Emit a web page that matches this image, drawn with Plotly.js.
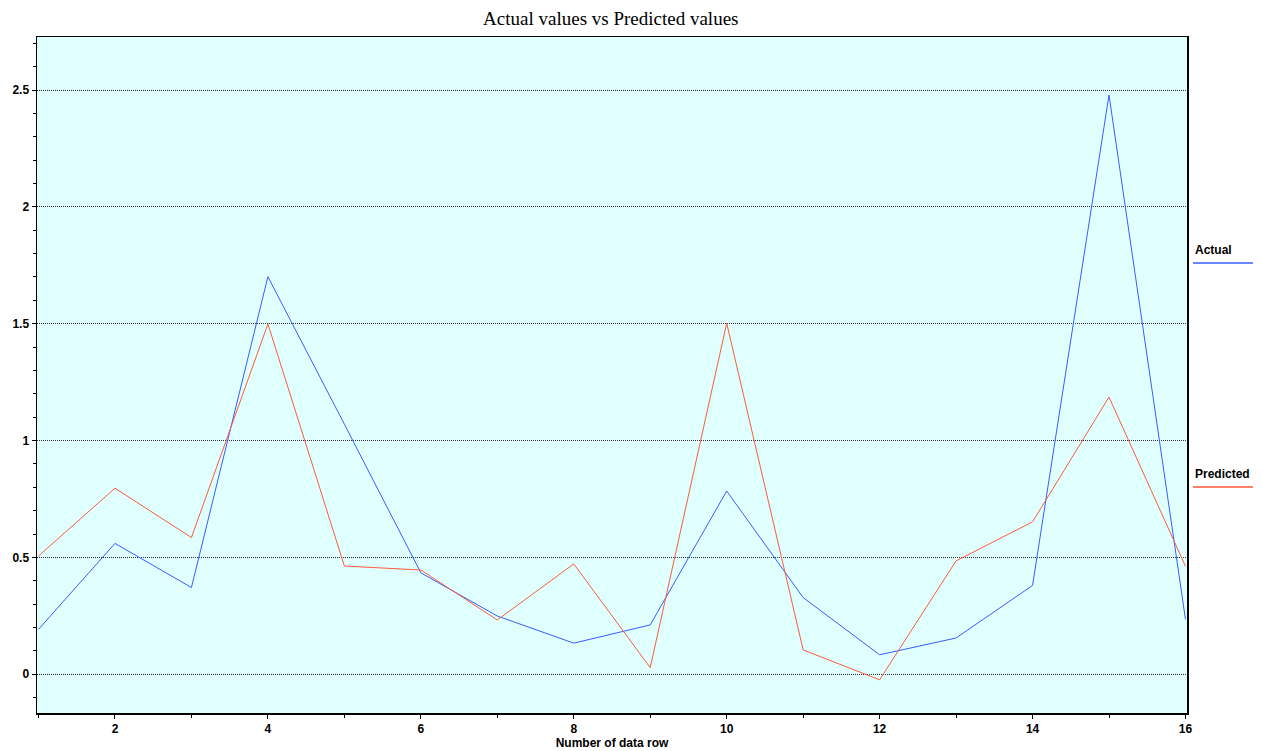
<!DOCTYPE html>
<html>
<head>
<meta charset="utf-8">
<script src="https://cdn.plot.ly/plotly-3.0.1.min.js"></script>
<style>html,body{margin:0;padding:0;background:#fff;}#chart{width:1262px;height:751px;}</style>
</head>
<body>
<div id="chart"></div>
<script>
const rows = [1,2,3,4,5,6,7,8,9,10,11,12,13,14,15,16];
const actual = [0.192,0.560,0.371,1.701,1.07,0.434,0.249,0.133,0.211,0.784,0.328,0.083,0.155,0.380,2.479,0.235];
const predicted = [0.506,0.796,0.585,1.499,0.463,0.446,0.232,0.472,0.028,1.502,0.104,-0.024,0.485,0.652,1.186,0.462];
const seriesNames = ["Actual","Predicted"];
const colors = ["#3a5cff","#ff5a3a"];

const tickFont = {family:"Liberation Sans, Arial, sans-serif", size:12, color:"#000", weight:"bold"};

const traces = [
  {x: rows, y: actual, type:"scatter", mode:"lines", name: seriesNames[0], line:{color:colors[0], width:1}},
  {x: rows, y: predicted, type:"scatter", mode:"lines", name: seriesNames[1], line:{color:colors[1], width:1}}
];

const legendItems = [{label: seriesNames[0], ty: 0.685, ly: 0.6657, color: colors[0]},
                     {label: seriesNames[1], ty: 0.3536, ly: 0.3343, color: colors[1]}];

const layout = {
  width:1262, height:751,
  margin:{l:37, r:75, t:37, b:38},
  paper_bgcolor:"#ffffff",
  plot_bgcolor:"#e0ffff",
  showlegend:false,
  title:{text:"Actual values vs Predicted values", font:{family:"Liberation Serif, Times New Roman, serif", size:19, color:"#000"},
         x:0.484, xanchor:"center", y:0.976, yanchor:"middle", yref:"container"},
  xaxis:{range:[0.98,16.02], tick0:0, dtick:2, ticks:"outside", ticklen:4, tickwidth:1, tickcolor:"#000",
         showgrid:false, zeroline:false, showline:true, linecolor:"#000", linewidth:1.5, mirror:true,
         tickfont:tickFont,
         minor:{dtick:1, tick0:0, ticks:"outside", ticklen:3, tickcolor:"#000", showgrid:false},
         title:{text:"Number of data row", font:{family:"Liberation Sans, Arial, sans-serif", size:12, color:"#000", weight:"bold"}, standoff:2}},
  yaxis:{range:[-0.166,2.727], tick0:0, dtick:0.5, ticks:"outside", ticklen:4, tickwidth:1, tickcolor:"#000",
         showgrid:true, gridcolor:"#333", griddash:"1px,1px", gridwidth:1, zeroline:false,
         showline:true, linecolor:"#000", linewidth:1.5, mirror:true,
         tickfont:tickFont,
         minor:{dtick:0.1, tick0:0, ticks:"outside", ticklen:3, tickcolor:"#000", showgrid:false}},
  annotations: legendItems.map(it => ({xref:"paper", yref:"paper", x:1.0052, y:it.ty, xanchor:"left", yanchor:"middle",
      text:it.label, showarrow:false, font:{family:"Liberation Sans, Arial, sans-serif", size:12, color:"#000", weight:"bold"}})),
  shapes: legendItems.map(it => ({type:"line", xref:"paper", yref:"paper", x0:1.0052, x1:1.0574, y0:it.ly, y1:it.ly,
      line:{color:it.color, width:1.5}}))
};

Plotly.newPlot("chart", traces, layout, {displayModeBar:false, staticPlot:true});
</script>
</body>
</html>
